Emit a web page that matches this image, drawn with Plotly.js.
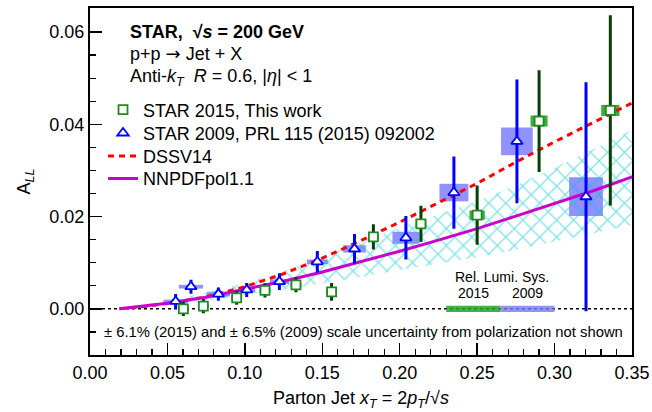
<!DOCTYPE html>
<html>
<head>
<meta charset="utf-8">
<script src="https://cdn.plot.ly/plotly-3.0.1.min.js"></script>
<style>body{margin:0;padding:0;background:#fff;}</style>
</head>
<body>
<div id="chart" style="width:652px;height:412px;"></div>
<script>
// ---- STAR 2015 (this work) ----
const x2015    = [0.0603, 0.0732, 0.0947, 0.1130, 0.1330, 0.1560, 0.1830, 0.2137, 0.2500, 0.2900, 0.3360];
const y2015    = [0.0000, 0.0006, 0.0024, 0.0040, 0.0052, 0.0037, 0.0156, 0.0184, 0.0203, 0.0407, 0.0430];
const stat2015 = [0.0012, 0.0012, 0.0012, 0.0012, 0.0013, 0.0016, 0.0024, 0.0036, 0.0061, 0.0107, 0.0203];
const sys2015  = [0.0005, 0.0005, 0.0005, 0.0005, 0.0005, 0.0006, 0.0007, 0.0010, 0.0010, 0.0012, 0.0012];
const sysW2015 = [0.0070, 0.0070, 0.0070, 0.0070, 0.0070, 0.0070, 0.0070, 0.0070, 0.0099, 0.0110, 0.0118];

// ---- STAR 2009, PRL 115 (2015) 092002 ----
const x2009    = [0.0553, 0.0652, 0.0829, 0.1012, 0.1223, 0.1468, 0.1708, 0.2040, 0.2350, 0.2757, 0.3203];
const y2009    = [0.0016, 0.0048, 0.0032, 0.0041, 0.0059, 0.0102, 0.0130, 0.0154, 0.0252, 0.0363, 0.0243];
const stat2009 = [0.0013, 0.0012, 0.0011, 0.0012, 0.0015, 0.0020, 0.0029, 0.0044, 0.0075, 0.0131, 0.0245];
const sys2009  = [0.0004, 0.0004, 0.0005, 0.0005, 0.0005, 0.0005, 0.0008, 0.0013, 0.0019, 0.0030, 0.0042];
const sysW2009 = [0.0155, 0.0157, 0.0150, 0.0108, 0.0123, 0.0135, 0.0146, 0.0174, 0.0187, 0.0205, 0.0218];

// ---- theory curves ----
const xTheory  = [0.019, 0.035, 0.05, 0.075, 0.10, 0.125, 0.15, 0.175, 0.20, 0.225, 0.25, 0.275, 0.30, 0.325, 0.35];
const dssv14   = [0.0000, 0.0005, 0.0012, 0.0026, 0.0048, 0.0076, 0.0110, 0.0148, 0.0188, 0.0230, 0.0272, 0.0318, 0.0362, 0.0404, 0.0446];
const nnpdf    = [0.0000, 0.0006, 0.0012, 0.0025, 0.0042, 0.0060, 0.0080, 0.0102, 0.0125, 0.0149, 0.0174, 0.0201, 0.0228, 0.0256, 0.0286];
const nnpdfUp  = [0.0001, 0.0009, 0.0018, 0.0035, 0.0056, 0.0082, 0.0112, 0.0145, 0.0176, 0.0205, 0.0233, 0.0268, 0.0306, 0.0346, 0.0387];
const nnpdfLo  = [0.0000, 0.0004, 0.0008, 0.0016, 0.0030, 0.0042, 0.0055, 0.0069, 0.0084, 0.0098, 0.0112, 0.0128, 0.0146, 0.0164, 0.0182];

// ---- relative luminosity systematics ----
const relLumiEdges = [0.230, 0.265, 0.300];   // 2015 | 2009
const relLumiHalf  = [0.0007, 0.0007];
const relLumiLabels = ['2015', '2009'];

const FONT = 'Liberation Sans, Arial, Helvetica, sans-serif';

const lumiCenters = [0, 1].map(i => (relLumiEdges[i] + relLumiEdges[i + 1]) / 2);
const lumiWidths  = [0, 1].map(i => relLumiEdges[i + 1] - relLumiEdges[i]);

const traces = [
  { x: xTheory, y: nnpdfLo, mode: 'lines', line: { width: 0 }, showlegend: false, hoverinfo: 'skip' },
  { x: xTheory, y: nnpdfUp, mode: 'lines', line: { width: 0 }, fill: 'tonexty',
    fillcolor: 'rgba(0,0,0,0)',
    fillpattern: { shape: 'x', fgcolor: '#00c4c8', bgcolor: 'rgba(0,0,0,0)', size: 12, solidity: 0.2, fillmode: 'overlay' },
    showlegend: false, hoverinfo: 'skip' },
  { x: xTheory, y: dssv14, mode: 'lines', name: 'DSSV14', legend: 'legend3',
    line: { color: '#ff0000', width: 3, dash: '6px,5px' } },
  { x: xTheory, y: nnpdf, mode: 'lines', name: 'NNPDFpol1.1', legend: 'legend4',
    line: { color: '#cc00cc', width: 3 } },
  { type: 'bar', x: lumiCenters, y: relLumiHalf.map(h => 2 * h), base: relLumiHalf.map(h => -h),
    width: lumiWidths, marker: { color: ['rgba(40,160,40,0.85)', 'rgba(120,120,240,0.8)'], line: { width: 0 } },
    showlegend: false, hoverinfo: 'skip' },
  { type: 'bar', x: x2009, y: sys2009.map(s => 2 * s), base: y2009.map((v, i) => v - sys2009[i]),
    width: sysW2009, marker: { color: 'rgba(100,100,255,0.7)', line: { width: 0 } },
    showlegend: false, hoverinfo: 'skip' },
  { type: 'bar', x: x2015, y: sys2015.map(s => 2 * s), base: y2015.map((v, i) => v - sys2015[i]),
    width: sysW2015, marker: { color: 'rgba(40,165,40,0.9)', line: { width: 0 } },
    showlegend: false, hoverinfo: 'skip' },
  { x: x2009, y: y2009, mode: 'markers', name: 'STAR 2009, PRL 115 (2015) 092002', legend: 'legend2',
    marker: { symbol: 'triangle-up', size: 10, color: '#ffffff', line: { color: '#0000ff', width: 1.8 } },
    error_y: { type: 'data', array: stat2009, color: '#0000ff', thickness: 3, width: 1.5 } },
  { x: x2015, y: y2015, mode: 'markers', name: 'STAR 2015, This work', legend: 'legend',
    marker: { symbol: 'square', size: 9, color: '#ffffff', line: { color: '#1f8a1f', width: 1.8 } },
    error_y: { type: 'data', array: stat2015, color: '#064006', thickness: 3, width: 1.5 } }
];

const axisCommon = {
  showline: true, linewidth: 2, linecolor: '#000', mirror: true,
  ticks: 'inside', ticklen: 12, tickwidth: 1.5, tickcolor: '#000',
  showgrid: false, zeroline: false,
  tickfont: { family: FONT, size: 18, color: '#000' }
};

function legendAt(py) {
  return { x: 0.024, y: (355 - py) / 347.5, xanchor: 'left', yanchor: 'middle', bgcolor: 'rgba(0,0,0,0)',
           font: { family: FONT, size: 18 }, borderwidth: 0, tracegroupgap: 0 };
}

const layout = {
  width: 652, height: 412,
  margin: { l: 90, r: 19.5, t: 7.5, b: 57 },
  paper_bgcolor: '#fff', plot_bgcolor: '#fff',
  font: { family: FONT, color: '#000' },
  barmode: 'overlay',
  xaxis: Object.assign({}, axisCommon, {
    range: [0, 0.35], dtick: 0.05, tick0: 0, tickformat: '.2f',
    minor: { dtick: 0.01, ticks: 'inside', ticklen: 6, tickwidth: 1.2, tickcolor: '#000', showgrid: false },
    title: { text: 'Parton Jet <i>x</i><sub><i>T</i></sub> = 2<i>p</i><sub><i>T</i></sub>/√<i>s</i>',
             font: { family: FONT, size: 18 }, standoff: 10 },
    automargin: false
  }),
  yaxis: Object.assign({}, axisCommon, {
    range: [-0.01, 0.0652], dtick: 0.02, tick0: 0, tickformat: '.2f',
    minor: { dtick: 0.005, ticks: 'inside', ticklen: 6, tickwidth: 1.2, tickcolor: '#000', showgrid: false },
    title: { text: 'A<sub><i>LL</i></sub>', font: { family: FONT, size: 18 }, standoff: 14 },
    automargin: false
  }),
  showlegend: true,
  legend:  legendAt(109.5),
  legend2: legendAt(133),
  legend3: legendAt(156),
  legend4: legendAt(178.5),
  shapes: [
    { type: 'line', xref: 'paper', x0: 0, x1: 1, yref: 'y', y0: 0, y1: 0, layer: 'below',
      line: { color: '#000', width: 1.5, dash: '3px,3px' } }
  ],
  annotations: [
    { xref: 'paper', yref: 'paper', x: 0.070, y: 0.930, xanchor: 'left', yanchor: 'middle', showarrow: false,
      text: '<b>STAR,  √<i>s</i> = 200 GeV</b>', font: { family: FONT, size: 18 } },
    { xref: 'paper', yref: 'paper', x: 0.070, y: 0.868, xanchor: 'left', yanchor: 'middle', showarrow: false,
      text: 'p+p <span style="font-family:DejaVu Sans">→</span> Jet + X', font: { family: FONT, size: 18 } },
    { xref: 'paper', yref: 'paper', x: 0.070, y: 0.800, xanchor: 'left', yanchor: 'middle', showarrow: false,
      text: 'Anti-<i>k</i><sub><i>T</i></sub>  <i>R</i> = 0.6, |<i>η</i>| &lt; 1', font: { family: FONT, size: 18 } },
    { xref: 'x', yref: 'paper', x: relLumiEdges[1] + 0.001, y: 0.2253, xanchor: 'center', yanchor: 'middle', showarrow: false,
      text: 'Rel. Lumi. Sys.', font: { family: FONT, size: 14 } },
    { xref: 'x', yref: 'paper', x: lumiCenters[0], y: 0.1776, xanchor: 'center', yanchor: 'middle', showarrow: false,
      text: relLumiLabels[0], font: { family: FONT, size: 14 } },
    { xref: 'x', yref: 'paper', x: lumiCenters[1], y: 0.1776, xanchor: 'center', yanchor: 'middle', showarrow: false,
      text: relLumiLabels[1], font: { family: FONT, size: 14 } },
    { xref: 'paper', yref: 'paper', x: 0.0216, y: 0.066, xanchor: 'left', yanchor: 'middle', showarrow: false,
      text: '± 6.1% (2015) and ± 6.5% (2009) scale uncertainty from polarization not shown',
      font: { family: FONT, size: 14.8 } }
  ]
};

Plotly.newPlot('chart', traces, layout, { displayModeBar: false, staticPlot: true });
</script>
</body>
</html>
